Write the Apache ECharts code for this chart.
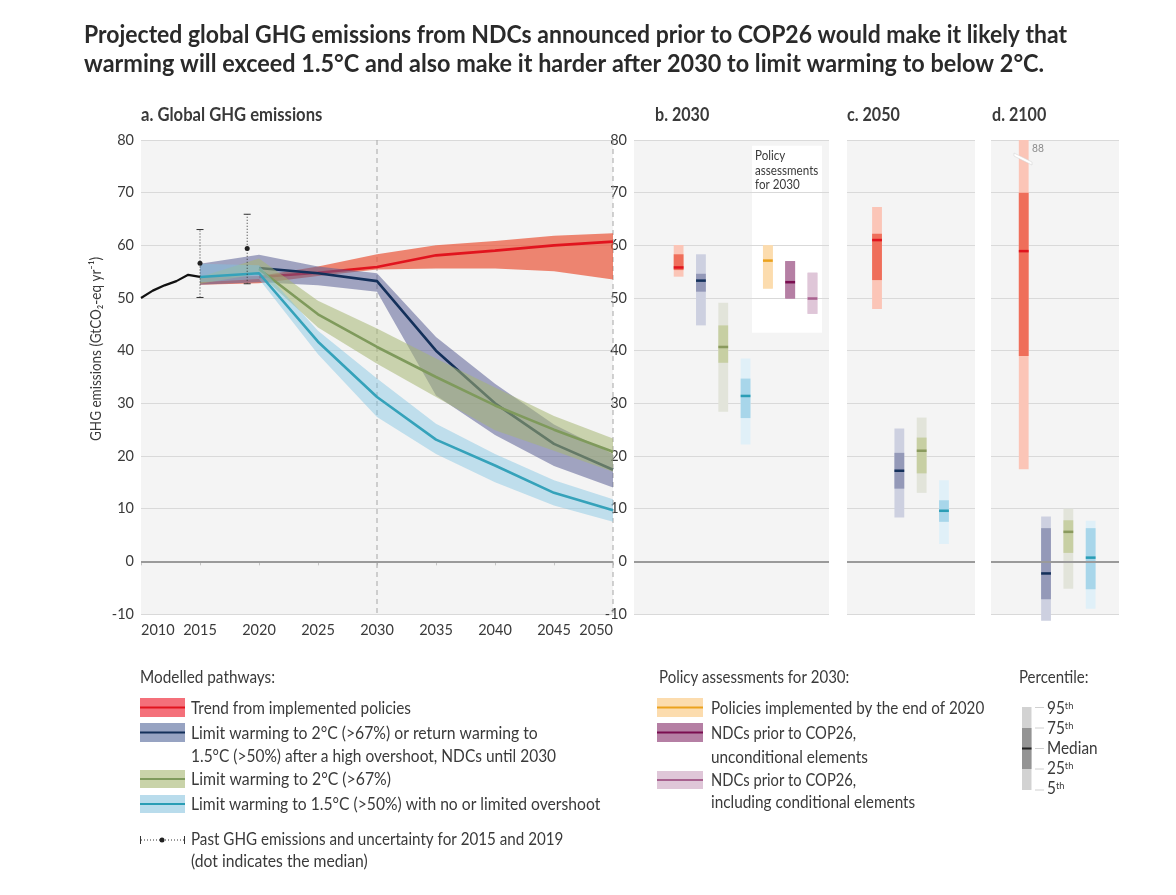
<!DOCTYPE html>
<html>
<head>
<meta charset="utf-8">
<title>Global GHG emissions</title>
<script src="https://cdn.jsdelivr.net/npm/echarts@6/dist/echarts.min.js"></script>
<style>
	html, body { margin: 0; padding: 0; background: #fff; }
	#main { width: 1176px; height: 895px; }
</style>
</head>
<body>
<div id="main"></div>
<script type="text/javascript">
// panel a: pathway years, null = the median is hidden behind the bands there
var years = [2015, 2020, 2025, 2030, 2035, 2040, 2045, 2050];
var redLow = [52.5, 52.8, 54.2, 55.4, 55.6, 55.6, 55.1, 53.5];
var redHigh = [54, 54.2, 56, 58.3, 60, 60.8, 61.8, 62.3];
var redMedian = [null, 54, 54.8, 55.9, 58.1, 59, 60, 60.7];
var navyLow = [52.5, 53, 52.4, 51.2, 31.5, 24, 18.1, 14];
var navyHigh = [56.5, 58.2, 56, 54.7, 42.6, 33.7, 26, 20.4];
var navyMedian = [null, 55.7, 54.7, 53.2, 40, 30, 22.3, 17.4];
var greenLow = [52.7, 54.6, 44.4, 37.5, 31.2, 24.9, 21, 17];
var greenHigh = [54, 57.5, 49.5, 44.2, 38.5, 33, 27.6, 23.3];
var greenMedian = [null, 55.5, 46.9, 40.7, 35, 29.6, 25, 20.8];
var blueLow = [53, 53.6, 39.3, 27.4, 20.4, 15, 10.6, 7.5];
var blueHigh = [56.5, 56.2, 43.8, 34.7, 26.1, 20.4, 15.4, 11.8];
var blueMedian = [54, 54.7, 41.7, 31.2, 23.1, 18.2, 13, 9.7];
var pastYears = [2010, 2011, 2012, 2013, 2014, 2015];
var pastValues = [50, 51.4, 52.4, 53.2, 54.4, 54];
// year, low, median, high
var pastUncertainty = [[2015, 50.1, 56.6, 63], [2019, 52.7, 59.4, 65.9]];

// panels b-d: position, p5, p25, median, p75, p95
var bars2030 = [
	[0, 54.05, 55.3, 55.8, 58.3, 60.06],
	[1, 44.8, 51.2, 53.3, 54.6, 58.3],
	[2, 28.4, 37.7, 40.7, 44.8, 49.1],
	[3, 22.2, 27.2, 31.4, 34.7, 38.5],
	[4, 51.8, 51.8, 57.1, 60, 60],
	[5, 49.9, 49.9, 53, 57, 57],
	[6, 47, 47, 49.9, 54.8, 54.8]
];
var bars2050 = [
	[0, 47.9, 53.4, 61, 62.2, 67.3],
	[1, 8.3, 13.8, 17.2, 20.6, 25.2],
	[2, 13, 16.7, 21, 23.5, 27.3],
	[3, 3.3, 7.5, 9.6, 11.6, 15.4]
];
var bars2100 = [
	[0, 17.5, 39, 58.9, 70, 88],
	[1, -11.3, -7.2, -2.3, 6.3, 8.5],
	[2, -5.2, 1.6, 5.6, 7.8, 10],
	[3, -9, -5.3, 0.7, 6.3, 7.7]
];
var policyBox = [[4.0, 43.4, 78.9]];

var FONT = 'Lato, "Noto Sans", sans-serif';
var TXT = '#3a3a3a';
// light, dark, median colours by position in the panel
var barColors = [
	['#fbc5b7', '#ef6e5a', '#e1141e'],
	['#cdd0e0', '#9499b8', '#14305a'],
	['#e2e4da', '#c7cfa3', '#8a9a5e'],
	['#e0f0f8', '#a8d6ea', '#2a9db5'],
	['#fcdcae', '#fcdcae', '#eba21e'],
	['#b57fa4', '#b57fa4', '#7a0e50'],
	['#dfc6d8', '#dfc6d8', '#a8618f']
];

function grid(left, width) {
	return { left: left, width: width, top: 140, height: 474, show: true, backgroundColor: '#f4f4f4', borderWidth: 0 };
}
function yAxis(idx, labels) {
	return {
		type: 'value', gridIndex: idx, min: -10, max: 80, interval: 10, z: 1,
		axisLine: { show: false },
		axisTick: { show: false },
		axisLabel: { show: labels, color: TXT, fontSize: 14.5, fontFamily: FONT, margin: 7, padding: [3, 0, 0, 0] },
		splitLine: { show: true, lineStyle: { color: '#d9d9d9', width: 1 } }
	};
}
function barAxis(idx, min, max) {
	return { type: 'value', gridIndex: idx, min: min, max: max, show: false, splitLine: { show: false } };
}
function zeroLine(idx) {
	return {
		type: 'line', xAxisIndex: idx, yAxisIndex: idx, data: [], z: 1, silent: true,
		markLine: {
			silent: true, symbol: 'none', label: { show: false }, animation: false,
			data: [{ yAxis: 0 }],
			lineStyle: { color: '#9a9a9a', width: 2, type: 'solid' }
		}
	};
}
// z keeps each pathway's band over the median of the pathway before it
function band(name, low, high, color, z) {
	return {
		type: 'custom', name: name, xAxisIndex: 0, yAxisIndex: 0, silent: true, z: z,
		data: years.map(function (y, i) { return [y, low[i], high[i]]; }),
		encode: { x: 0, y: [1, 2] },
		renderItem: function (params, api) {
			if (params.dataIndex !== 0) return;
			var pts = [];
			years.forEach(function (y, i) { pts.push(api.coord([y, high[i]])); });
			for (var i = years.length - 1; i >= 0; i--) pts.push(api.coord([years[i], low[i]]));
			return { type: 'polygon', shape: { points: pts }, style: { fill: color } };
		}
	};
}
function median(name, vals, color, z) {
	return {
		type: 'line', name: name, symbol: 'none', silent: true, xAxisIndex: 0, yAxisIndex: 0, z: z,
		data: years.map(function (y, i) { return [y, vals[i]]; }),
		lineStyle: { color: color, width: 2.6 }
	};
}
function renderBar(params, api) {
	var pos = api.value(0);
	var c = barColors[pos];
	var w = 9.8;
	var x = api.coord([pos, 0])[0] - w / 2;
	// the 2100 bar runs past the top of the axis, it stops at the break
	function yy(v) { return api.coord([pos, Math.min(v, 80)])[1]; }
	function rect(a, b, color) {
		return { type: 'rect', shape: { x: x, y: yy(b), width: w, height: yy(a) - yy(b) }, style: { fill: color } };
	}
	return {
		type: 'group',
		children: [
			rect(api.value(1), api.value(5), c[0]),
			rect(api.value(2), api.value(4), c[1]),
			rect(api.value(3) - 0.24, api.value(3) + 0.24, c[2])
		]
	};
}
function barSeries(idx, data) {
	return { type: 'custom', xAxisIndex: idx, yAxisIndex: idx, data: data, renderItem: renderBar, encode: { x: 0, y: [1, 2, 3, 4, 5] }, silent: true };
}

// legend and captions
function txt(x, y, text, size, opt) {
	opt = opt || {};
	return {
		type: 'text', x: x, y: y + 1, z: 20, silent: true, scaleX: opt.sx || 0.93, rotation: opt.rot || 0,
		style: {
			text: text, fill: opt.fill || TXT, fontFamily: FONT, fontSize: size,
			fontWeight: opt.bold ? 'bold' : 'normal', verticalAlign: 'middle', align: opt.align || 'left',
			rich: opt.rich
		}
	};
}
function box(x, y, w, h, fill) {
	return { type: 'rect', z: 20, silent: true, shape: { x: x, y: y, width: w, height: h }, style: { fill: fill } };
}
function seg(x1, y1, x2, y2, stroke, width, dash) {
	return { type: 'line', z: 21, silent: true, shape: { x1: x1, y1: y1, x2: x2, y2: y2 }, style: { stroke: stroke, lineWidth: width, lineDash: dash } };
}
function swatch(x, y, w, h, fill, line, lw) {
	return [box(x, y, w, h, fill), seg(x, y + h / 2, x + w, y + h / 2, line, lw || 2)];
}
var supRich = { s: { fontFamily: FONT, fontSize: 10, fill: TXT, verticalAlign: 'top', padding: [0, 0, 6, 0] } };

var graphics = [
	txt(84, 34, 'Projected global GHG emissions from NDCs announced prior to COP26 would make it likely that', 24, { bold: true, fill: '#2a2a2a', sx: 0.957 }),
	txt(84, 63, 'warming will exceed 1.5°C and also make it harder after 2030 to limit warming to below 2°C.', 24, { bold: true, fill: '#2a2a2a', sx: 0.976 }),
	txt(141, 114, 'a. Global GHG emissions', 18, { bold: true, sx: 0.924 }),
	txt(655, 114, 'b. 2030', 18, { bold: true, sx: 0.895 }),
	txt(847, 114, 'c. 2050', 18, { bold: true, sx: 0.895 }),
	txt(992, 114, 'd. 2100', 18, { bold: true, sx: 0.895 }),
	txt(96, 348, 'GHG emissions (GtCO₂-eq yr⁻¹)', 15, { rot: Math.PI / 2, align: 'center', sx: 0.9 }),
	txt(755, 155, 'Policy', 12.5),
	txt(755, 170, 'assessments', 12.5),
	txt(755, 184, 'for 2030', 12.5),
	// axis break on the 2100 bar
	{ type: 'polygon', z: 20, silent: true, shape: { points: [[1014, 153], [1032, 162], [1032, 165], [1014, 156]] }, style: { fill: '#fff', stroke: '#d0d0d0', lineWidth: 0.5 } },
	txt(1032, 147, '88', 11, { fill: '#8c8c8c' }),

	txt(140, 677, 'Modelled pathways:', 16.5),
	txt(191, 708, 'Trend from implemented policies', 16.5),
	txt(191, 733, 'Limit warming to 2°C (>67%) or return warming to', 16.5, { sx: 0.955 }),
	txt(191, 756, '1.5°C (>50%) after a high overshoot, NDCs until 2030', 16.5, { sx: 0.938 }),
	txt(191, 779, 'Limit warming to 2°C (>67%)', 16.5, { sx: 0.959 }),
	txt(191, 804, 'Limit warming to 1.5°C (>50%) with no or limited overshoot', 16.5, { sx: 0.949 }),
	txt(191, 839, 'Past GHG emissions and uncertainty for 2015 and 2019', 16.5, { sx: 0.92 }),
	txt(191, 861, '(dot indicates the median)', 16.5, { sx: 0.951 }),
	txt(659, 677, 'Policy assessments for 2030:', 16.5, { sx: 0.911 }),
	txt(711, 708, 'Policies implemented by the end of 2020', 16.5, { sx: 0.923 }),
	txt(711, 733, 'NDCs prior to COP26,', 16.5, { sx: 0.893 }),
	txt(711, 757, 'unconditional elements', 16.5),
	txt(711, 780, 'NDCs prior to COP26,', 16.5, { sx: 0.893 }),
	txt(711, 802, 'including conditional elements', 16.5),
	txt(1019, 677, 'Percentile:', 16.5, { sx: 0.91 }),
	txt(1047, 708, '95{s|th}', 16.5, { rich: supRich }),
	txt(1047, 728, '75{s|th}', 16.5, { rich: supRich }),
	txt(1047, 748, 'Median', 16.5),
	txt(1047, 768, '25{s|th}', 16.5, { rich: supRich }),
	txt(1047, 788, '5{s|th}', 16.5, { rich: supRich }),

	box(1022, 707, 9.5, 83, '#d2d2d2'),
	box(1022, 728, 9.5, 41, '#949494'),
	seg(1022, 748.5, 1031.5, 748.5, '#222', 2),
	seg(1035, 707.5, 1044, 707.5, '#d0d0d0', 1),
	seg(1035, 728, 1044, 728, '#d0d0d0', 1),
	seg(1035, 748.5, 1044, 748.5, '#d0d0d0', 1),
	seg(1035, 769, 1044, 769, '#d0d0d0', 1),
	seg(1035, 790, 1044, 790, '#d0d0d0', 1),

	seg(140.5, 836, 140.5, 844, '#333', 1),
	seg(184.5, 836, 184.5, 844, '#333', 1),
	seg(141, 840, 184, 840, '#333', 1, [1, 2]),
	{ type: 'circle', z: 22, silent: true, shape: { cx: 162, cy: 840, r: 2.5 }, style: { fill: '#222' } }
]
	.concat(swatch(140, 698, 45, 19, '#f4707a', '#e1141e'))
	.concat(swatch(140, 723, 45, 19, '#97a3c2', '#14305a'))
	.concat(swatch(140, 770, 45, 18, '#c9d3a9', '#7f9a5c'))
	.concat(swatch(140, 795, 45, 18, '#b9dcec', '#2a9db5'))
	.concat(swatch(657, 698, 46, 19, '#fcdcae', '#eba21e'))
	.concat(swatch(657, 723, 46, 19, '#b57fa4', '#7a0e50'))
	.concat(swatch(657, 771, 46, 18, '#dfc6d8', '#a8618f'));

var seriesList = [
	zeroLine(0),
	{
		type: 'custom', xAxisIndex: 0, yAxisIndex: 0, z: 1.5, silent: true, data: [[2030], [2050]],
		encode: { x: 0 },
		renderItem: function (params, api) {
			var a = api.coord([api.value(0), 80]), b = api.coord([api.value(0), -10]);
			return { type: 'line', shape: { x1: a[0], y1: a[1], x2: b[0], y2: b[1] }, style: { stroke: '#a6a6a6', lineWidth: 1, lineDash: [5, 4] } };
		}
	},
	band('red band', redLow, redHigh, 'rgba(233,84,56,0.7)', 2),
	median('Trend from implemented policies', redMedian, '#e1141e', 2.1),
	band('navy band', navyLow, navyHigh, 'rgba(91,96,149,0.55)', 2.2),
	median('Limit warming to 2C or return', navyMedian, '#14305a', 2.3),
	band('green band', greenLow, greenHigh, 'rgba(165,182,115,0.55)', 2.4),
	median('Limit warming to 2C', greenMedian, '#7f9a5c', 2.5),
	band('blue band', blueLow, blueHigh, 'rgba(127,196,226,0.45)', 2.6),
	median('Limit warming to 1.5C', blueMedian, '#35a2ba', 2.7),
	{
		type: 'line', name: 'Past', symbol: 'none', silent: true, xAxisIndex: 0, yAxisIndex: 0, z: 2.8,
		data: pastYears.map(function (y, i) { return [y, pastValues[i]]; }),
		lineStyle: { color: '#111', width: 2.2 }
	},
	{
		type: 'custom', xAxisIndex: 0, yAxisIndex: 0, silent: true, data: pastUncertainty, z: 5,
		encode: { x: 0, y: [1, 2, 3] },
		renderItem: function (params, api) {
			var lo = api.coord([api.value(0), api.value(1)]);
			var mid = api.coord([api.value(0), api.value(2)]);
			var hi = api.coord([api.value(0), api.value(3)]);
			var ink = { stroke: '#333', lineWidth: 1 };
			return {
				type: 'group',
				children: [
					{ type: 'line', shape: { x1: lo[0], y1: lo[1], x2: hi[0], y2: hi[1] }, style: { stroke: '#333', lineWidth: 1, lineDash: [1, 2] } },
					{ type: 'line', shape: { x1: lo[0] - 3.5, y1: lo[1], x2: lo[0] + 3.5, y2: lo[1] }, style: ink },
					{ type: 'line', shape: { x1: hi[0] - 3.5, y1: hi[1], x2: hi[0] + 3.5, y2: hi[1] }, style: ink },
					{ type: 'circle', shape: { cx: mid[0], cy: mid[1], r: 2.5 }, style: { fill: '#222' } }
				]
			};
		}
	},
	zeroLine(1), zeroLine(2), zeroLine(3),
	{
		type: 'custom', xAxisIndex: 1, yAxisIndex: 1, z: 0.5, silent: true, data: policyBox,
		encode: { x: 0, y: [1, 2] },
		renderItem: function (params, api) {
			var a = api.coord([api.value(0) - 0.71, api.value(2)]);
			var b = api.coord([api.value(0) + 2.43, api.value(1)]);
			return { type: 'rect', shape: { x: a[0], y: a[1], width: b[0] - a[0], height: b[1] - a[1] }, style: { fill: '#fff' } };
		}
	},
	barSeries(1, bars2030),
	barSeries(2, bars2050),
	barSeries(3, bars2100)
];

var option = {
	animation: false,
	grid: [grid(141, 472), grid(634, 195), grid(847, 128), grid(991, 128)],
	xAxis: [
		{
			type: 'value', gridIndex: 0, min: 2010, max: 2050, interval: 5, z: 1,
			splitLine: { show: false },
			axisLine: { show: false },
			axisTick: { show: true, length: 4, lineStyle: { color: '#c4c4c4' } },
			axisLabel: {
				color: TXT, fontSize: 14.5, fontFamily: FONT, margin: 9,
				alignMinLabel: 'left', alignMaxLabel: 'right',
				formatter: function (v) { return String(v); }
			}
		},
		barAxis(1, -2.0, 6.74),
		barAxis(2, -1.345, 4.39),
		barAxis(3, -1.466, 4.27)
	],
	yAxis: [yAxis(0, true), yAxis(1, true), yAxis(2, false), yAxis(3, false)],
	series: seriesList,
	graphic: graphics
};

var myChart = echarts.init(document.getElementById('main'));
myChart.setOption(option);
</script>
</body>
</html>
